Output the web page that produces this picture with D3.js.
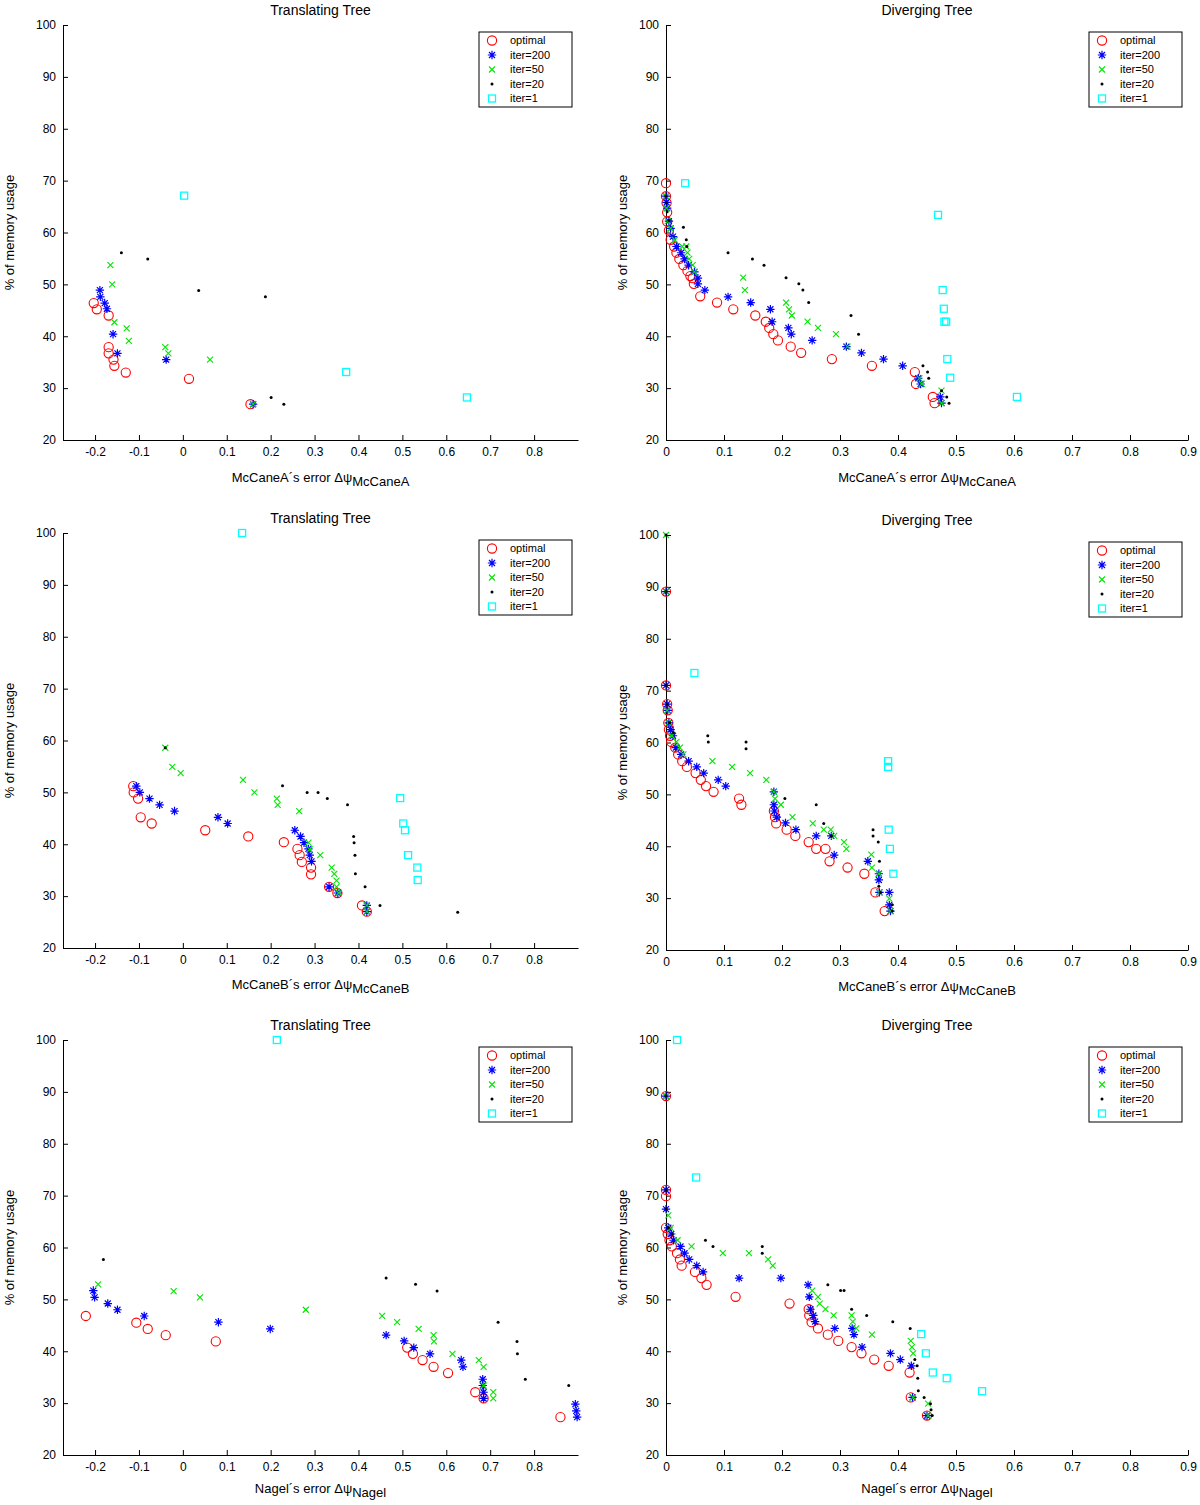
<!DOCTYPE html>
<html><head><meta charset="utf-8">
<script src="https://cdn.jsdelivr.net/npm/d3@7"></script>
<style>body{margin:0;background:#fff}svg{display:block}text{font-family:"Liberation Sans",Arial,Helvetica,sans-serif;fill:#000}</style>
</head><body><svg id="c" width="1200" height="1505"></svg>
<script>
const seriesNames = ["optimal","iter=200","iter=50","iter=20","iter=1"];
const yTicks = [20,30,40,50,60,70,80,90,100];
const xTicksLeft = [-0.2,-0.1,0,0.1,0.2,0.3,0.4,0.5,0.6,0.7,0.8];
const xTicksRight = [0,0.1,0.2,0.3,0.4,0.5,0.6,0.7,0.8,0.9];
const titles = ["Translating Tree","Diverging Tree","Translating Tree","Diverging Tree","Translating Tree","Diverging Tree"];
const xLabelMain = ["McCaneA\u00B4s error \u0394\u03C8","McCaneA\u00B4s error \u0394\u03C8","McCaneB\u00B4s error \u0394\u03C8","McCaneB\u00B4s error \u0394\u03C8","Nagel\u00B4s error \u0394\u03C8","Nagel\u00B4s error \u0394\u03C8"];
const xLabelSub = ["McCaneA","McCaneA","McCaneB","McCaneB","Nagel","Nagel"];
const yLabel = "% of memory usage";

// Panel 1: Translating Tree, McCaneA
const p1_opt = [[-0.203,46.4],[-0.196,45.2],[-0.169,44.0],[-0.169,37.9],[-0.169,36.7],[-0.158,35.5],[-0.156,34.3],[-0.130,33.0],[0.014,31.8],[0.154,26.9]];
const p1_i200 = [[-0.189,48.9],[-0.188,47.6],[-0.178,46.4],[-0.173,45.3],[-0.159,40.4],[-0.149,36.7],[-0.038,35.5],[0.160,26.9]];
const p1_i50 = [[-0.165,53.7],[-0.161,50.0],[-0.156,42.7],[-0.128,41.5],[-0.123,39.1],[-0.040,37.9],[-0.033,36.7],[0.062,35.5],[0.160,26.9]];
const p1_i20 = [[-0.140,56.1],[-0.080,54.9],[0.036,48.8],[0.188,47.6],[0.201,28.2],[0.230,26.9]];
const p1_i1 = [[0.003,67.1],[0.372,33.1],[0.647,28.2]];

// Panel 2: Diverging Tree, McCaneA
const p2_opt = [[0,69.5],[0,67.0],[0.001,65.7],[0.002,63.9],[0.002,62.1],[0.005,60.4],[0.008,58.6],[0.014,57.3],[0.018,56.1],[0.023,54.9],[0.030,53.7],[0.037,52.6],[0.042,51.6],[0.046,51.2],[0.048,50.1],[0.059,47.7],[0.088,46.5],[0.116,45.2],[0.154,44.0],[0.172,42.8],[0.178,41.6],[0.185,40.4],[0.193,39.2],[0.215,38.0],[0.233,36.8],[0.286,35.6],[0.355,34.3],[0.429,33.1],[0.431,30.8],[0.460,28.3],[0.463,27.1]];
const p2_i200 = [[0,67.0],[0.001,65.8],[0.002,64.7],[0.005,62.2],[0.008,60.8],[0.012,59.2],[0.018,57.3],[0.026,56.1],[0.032,54.9],[0.039,53.7],[0.049,52.4],[0.055,51.2],[0.055,50.1],[0.067,48.9],[0.107,47.6],[0.146,46.5],[0.180,45.2],[0.183,42.8],[0.211,41.6],[0.216,40.4],[0.252,39.2],[0.311,38.0],[0.337,36.8],[0.375,35.6],[0.408,34.3],[0.435,31.9],[0.439,30.8],[0.473,28.3],[0.475,27.1]];
const p2_i50 = [[0,67.0],[0.001,64.7],[0.003,62.2],[0.008,60.8],[0.015,58.6],[0.028,57.3],[0.035,57.3],[0.037,56.1],[0.040,54.9],[0.046,53.7],[0.049,52.4],[0.133,51.3],[0.136,48.9],[0.207,46.5],[0.212,45.2],[0.217,44.0],[0.244,42.8],[0.262,41.6],[0.293,40.4],[0.313,38.0],[0.437,31.9],[0.441,30.8],[0.475,29.5],[0.475,27.1]];
const p2_i20 = [[0,67.0],[0,65.7],[0.002,64.0],[0.005,62.3],[0.030,61.0],[0.035,58.6],[0.036,57.3],[0.107,56.1],[0.149,54.9],[0.169,53.7],[0.207,51.3],[0.229,50.1],[0.236,48.9],[0.246,46.5],[0.319,44.0],[0.332,40.4],[0.443,34.3],[0.451,33.1],[0.453,31.9],[0.475,29.5],[0.484,28.3],[0.488,27.1]];
const p2_i1 = [[0.033,69.5],[0.469,63.4],[0.477,48.9],[0.479,45.3],[0.480,42.8],[0.483,42.8],[0.485,35.6],[0.490,32.0],[0.605,28.3]];

// Panel 3: Translating Tree, McCaneB
const p3_opt = [[-0.113,51.2],[-0.112,50.0],[-0.102,48.8],[-0.096,45.2],[-0.071,44.0],[0.051,42.7],[0.149,41.5],[0.230,40.4],[0.261,39.1],[0.266,37.9],[0.271,36.6],[0.292,35.5],[0.292,34.2],[0.333,31.8],[0.352,30.6],[0.408,28.2],[0.419,27.0]];
const p3_i200 = [[-0.106,51.2],[-0.098,50.0],[-0.076,48.8],[-0.053,47.6],[-0.019,46.4],[0.080,45.2],[0.102,44.0],[0.255,42.7],[0.268,41.5],[0.276,40.3],[0.286,39.1],[0.289,37.9],[0.293,36.7],[0.333,31.8],[0.353,30.6],[0.419,28.2],[0.419,27.0]];
const p3_i50 = [[-0.040,58.6],[-0.024,54.9],[-0.005,53.7],[0.137,52.4],[0.163,50.0],[0.214,48.8],[0.216,47.6],[0.265,46.4],[0.286,40.3],[0.289,39.0],[0.313,37.9],[0.339,35.5],[0.345,34.3],[0.350,33.0],[0.350,31.8],[0.355,30.6],[0.419,28.2],[0.419,27.0]];
const p3_i20 = [[-0.040,58.6],[0.227,51.3],[0.283,50.0],[0.308,50.0],[0.329,48.8],[0.375,47.6],[0.389,41.5],[0.390,40.3],[0.392,37.9],[0.393,34.3],[0.415,31.8],[0.449,28.2],[0.626,26.9]];
const p3_i1 = [[0.135,100],[0.495,48.9],[0.502,44.0],[0.506,42.7],[0.513,37.9],[0.534,35.5],[0.535,33.1]];

// Panel 4: Diverging Tree, McCaneB
const p4_opt = [[0,89.1],[0,71.0],[0.002,67.4],[0.003,66.2],[0.004,63.8],[0.005,62.5],[0.007,61.3],[0.009,60.1],[0.016,59.0],[0.021,57.7],[0.028,56.4],[0.036,55.3],[0.051,54.1],[0.060,52.8],[0.069,51.6],[0.082,50.5],[0.126,49.2],[0.130,48.0],[0.186,46.8],[0.188,45.6],[0.190,44.4],[0.208,43.2],[0.223,42.0],[0.246,40.8],[0.259,39.5],[0.275,39.5],[0.282,37.1],[0.313,35.9],[0.342,34.7],[0.361,31.1],[0.377,27.5]];
const p4_i200 = [[0,89.1],[0,71.0],[0.002,67.4],[0.003,66.2],[0.005,63.8],[0.008,62.5],[0.012,61.3],[0.017,59.0],[0.026,57.7],[0.039,56.4],[0.053,55.3],[0.065,54.1],[0.090,52.8],[0.103,51.6],[0.186,50.5],[0.186,48.0],[0.187,46.8],[0.191,45.6],[0.206,44.5],[0.224,43.2],[0.259,42.0],[0.285,42.0],[0.290,38.3],[0.348,37.1],[0.367,34.7],[0.367,33.5],[0.368,31.1],[0.385,31.1],[0.385,28.7],[0.387,27.5]];
const p4_i50 = [[0,100],[0,89.1],[0.002,66.2],[0.004,63.8],[0.010,61.3],[0.018,60.1],[0.024,59.0],[0.030,57.7],[0.080,56.4],[0.114,55.3],[0.145,54.1],[0.173,52.8],[0.186,50.5],[0.188,49.2],[0.198,48.0],[0.218,45.6],[0.253,44.4],[0.272,43.2],[0.284,43.2],[0.290,42.0],[0.307,40.8],[0.311,39.5],[0.354,38.4],[0.355,35.9],[0.367,34.7],[0.368,31.1],[0.385,29.9],[0.387,27.5]];
const p4_i20 = [[0,100],[0,89.1],[0,71.0],[0.002,67.4],[0.006,63.8],[0.013,61.9],[0.072,61.3],[0.073,60.1],[0.138,60.1],[0.138,58.8],[0.205,49.2],[0.259,48.0],[0.272,44.4],[0.285,42.0],[0.357,43.2],[0.357,42.0],[0.366,40.8],[0.368,37.1],[0.367,32.3],[0.370,31.1],[0.390,28.7],[0.390,27.5]];
const p4_i1 = [[0.049,73.4],[0.383,56.4],[0.383,55.3],[0.384,43.2],[0.386,39.5],[0.392,34.7]];

// Panel 5: Translating Tree, Nagel
const p5_opt = [[-0.221,46.8],[-0.106,45.5],[-0.080,44.3],[-0.039,43.1],[0.075,41.9],[0.511,40.7],[0.524,39.5],[0.546,38.3],[0.571,37.0],[0.604,35.8],[0.666,32.1],[0.685,30.9],[0.860,27.3]];
const p5_i200 = [[-0.204,51.7],[-0.201,50.4],[-0.171,49.2],[-0.149,48.0],[-0.088,46.8],[0.081,45.6],[0.199,44.3],[0.463,43.1],[0.504,42.0],[0.526,40.7],[0.563,39.5],[0.634,38.3],[0.638,37.0],[0.683,34.6],[0.683,33.4],[0.685,32.1],[0.685,30.9],[0.894,29.8],[0.896,28.5],[0.898,27.3]];
const p5_i50 = [[-0.193,52.9],[-0.021,51.6],[0.039,50.4],[0.280,48.0],[0.454,46.8],[0.488,45.6],[0.537,44.3],[0.571,43.1],[0.572,41.9],[0.614,39.5],[0.674,38.3],[0.685,37.0],[0.685,33.4],[0.707,32.1],[0.707,30.9]];
const p5_i20 = [[-0.181,57.7],[0.463,54.1],[0.530,52.9],[0.579,51.6],[0.718,45.6],[0.761,41.9],[0.762,39.5],[0.780,34.6],[0.879,33.4]];
const p5_i1 = [[0.214,100]];

// Panel 6: Diverging Tree, Nagel
const p6_opt = [[0,89.2],[0,71.1],[0,69.9],[0,63.8],[0.003,62.6],[0.006,61.4],[0.010,60.2],[0.019,58.9],[0.024,57.7],[0.027,56.5],[0.050,55.3],[0.061,54.1],[0.070,52.8],[0.120,50.5],[0.213,49.2],[0.246,48.1],[0.247,46.9],[0.251,45.6],[0.262,44.4],[0.279,43.2],[0.297,42.0],[0.320,40.8],[0.337,39.6],[0.359,38.4],[0.384,37.2],[0.420,35.9],[0.422,31.1],[0.450,27.6]];
const p6_i200 = [[0,89.2],[0,71.1],[0,67.4],[0.004,63.8],[0.009,62.6],[0.013,61.4],[0.025,60.2],[0.032,58.9],[0.040,57.7],[0.053,56.5],[0.064,55.3],[0.126,54.1],[0.198,54.1],[0.245,52.8],[0.247,50.5],[0.249,48.1],[0.254,46.9],[0.257,45.7],[0.291,44.4],[0.321,44.4],[0.324,43.2],[0.338,40.8],[0.387,39.6],[0.404,38.4],[0.423,37.2],[0.425,31.1],[0.450,27.6]];
const p6_i50 = [[0,89.2],[0.004,66.2],[0.008,63.8],[0.020,61.4],[0.044,60.2],[0.098,58.9],[0.143,58.9],[0.176,57.7],[0.184,56.5],[0.252,51.7],[0.262,50.5],[0.265,49.2],[0.275,48.1],[0.289,46.9],[0.320,46.9],[0.322,45.7],[0.328,44.4],[0.355,43.2],[0.422,42.0],[0.424,40.8],[0.426,39.6],[0.426,31.1],[0.452,29.9],[0.452,27.6]];
const p6_i20 = [[0,89.2],[0,71.1],[0,67.4],[0.004,63.8],[0.011,62.6],[0.068,61.4],[0.081,60.2],[0.166,60.2],[0.166,58.9],[0.279,52.8],[0.301,51.7],[0.307,51.7],[0.320,48.1],[0.346,46.9],[0.391,45.7],[0.421,44.4],[0.429,38.4],[0.433,37.2],[0.434,34.8],[0.435,32.4],[0.445,31.1],[0.456,29.9],[0.457,28.7],[0.459,27.6]];
const p6_i1 = [[0.019,100],[0.052,73.5],[0.440,43.3],[0.448,39.6],[0.460,35.9],[0.484,34.8],[0.545,32.3]];

const panelData = [
  [p1_opt,p1_i200,p1_i50,p1_i20,p1_i1],
  [p2_opt,p2_i200,p2_i50,p2_i20,p2_i1],
  [p3_opt,p3_i200,p3_i50,p3_i20,p3_i1],
  [p4_opt,p4_i200,p4_i50,p4_i20,p4_i1],
  [p5_opt,p5_i200,p5_i50,p5_i20,p5_i1],
  [p6_opt,p6_i200,p6_i50,p6_i20,p6_i1]
];

// layout
const boxes = [
  {l:63,r:578,t:25,b:440,side:0,lab:42},
  {l:666,r:1188,t:25,b:440,side:1,lab:42},
  {l:63,r:578,t:533,b:948,side:0,lab:41},
  {l:666,r:1188,t:535,b:950,side:1,lab:41},
  {l:63,r:578,t:1040,b:1455,side:0,lab:38},
  {l:666,r:1188,t:1040,b:1455,side:1,lab:38}
];
const xDomLeft = [-0.273, 0.9];
const xDomRight = [0, 0.9];

const colors = ["#ff0000","#0000ff","#00e600","#000000","#00ffff"];
const svg = d3.select("#c");

function drawMarker(g, k, cx, cy) {
  const c = colors[k];
  if (k === 0) {
    g.append("circle").attr("cx",cx).attr("cy",cy).attr("r",4.6).attr("fill","none").attr("stroke",c).attr("stroke-width",1.1);
  } else if (k === 1) {
    const a = 4.2, d = 3.0;
    g.append("path").attr("d",`M${cx-a},${cy}H${cx+a}M${cx},${cy-a}V${cy+a}M${cx-d},${cy-d}L${cx+d},${cy+d}M${cx-d},${cy+d}L${cx+d},${cy-d}`)
      .attr("stroke",c).attr("stroke-width",1.2).attr("fill","none");
  } else if (k === 2) {
    const d = 3.0;
    g.append("path").attr("d",`M${cx-d},${cy-d}L${cx+d},${cy+d}M${cx-d},${cy+d}L${cx+d},${cy-d}`)
      .attr("stroke",c).attr("stroke-width",1.1).attr("fill","none");
  } else if (k === 3) {
    g.append("circle").attr("cx",cx).attr("cy",cy).attr("r",1.5).attr("fill",c);
  } else {
    g.append("rect").attr("x",cx-3.5).attr("y",cy-3.5).attr("width",7).attr("height",7)
      .attr("fill","none").attr("stroke",c).attr("stroke-width",1.3);
  }
}

const fmt = d => String(+d.toFixed(1));

boxes.forEach((bx, i) => {
  const x = d3.scaleLinear().domain(bx.side ? xDomRight : xDomLeft).range([bx.l, bx.r]);
  const y = d3.scaleLinear().domain([20,100]).range([bx.b, bx.t]);
  const g = svg.append("g");

  const xa = g.append("g").attr("transform",`translate(0,${bx.b})`)
    .call(d3.axisBottom(x).tickValues(bx.side ? xTicksRight : xTicksLeft).tickSize(-5).tickSizeOuter(0).tickPadding(7).tickFormat(fmt));
  const ya = g.append("g").attr("transform",`translate(${bx.l},0)`)
    .call(d3.axisLeft(y).tickValues(yTicks).tickSize(-5).tickSizeOuter(0).tickPadding(7).tickFormat(fmt));
  [xa, ya].forEach(a => {
    a.selectAll("text").attr("font-size",12).attr("font-family","Liberation Sans, Arial, sans-serif").attr("fill","#000");
    a.selectAll("line").attr("stroke","#000");
    a.select(".domain").attr("stroke","#000");
  });

  // data
  const dg = g.append("g");
  panelData[i].forEach((ser, k) => {
    ser.forEach(p => drawMarker(dg, k, x(p[0]), y(p[1])));
  });

  // title
  g.append("text").attr("x",(bx.l+bx.r)/2).attr("y",bx.t-10).attr("text-anchor","middle")
    .attr("font-size",14).text(titles[i]);

  // x label
  const xl = g.append("text").attr("x",(bx.l+bx.r)/2).attr("y",bx.b+bx.lab).attr("text-anchor","middle").attr("font-size",13);
  xl.append("tspan").text(xLabelMain[i]);
  xl.append("tspan").attr("dy",4).attr("font-size",13).text(xLabelSub[i]);

  // y label
  const ylx = bx.side ? bx.l - 44 : bx.l - 54;
  g.append("text").attr("transform",`translate(${ylx},${(bx.t+bx.b)/2}) rotate(-90)`)
    .attr("text-anchor","middle").attr("dy","0.35em").attr("font-size",13).text(yLabel);

  // legend
  const lw = 93, lh = 75;
  const lx = bx.r - 6 - lw, ly = bx.t + 7;
  const lg = g.append("g");
  lg.append("rect").attr("x",lx).attr("y",ly).attr("width",lw).attr("height",lh)
    .attr("fill","#fff").attr("stroke","#000").attr("stroke-width",1);
  seriesNames.forEach((nm, k) => {
    const yy = ly + 8.5 + k*14.5;
    drawMarker(lg, k, lx + 13, yy);
    lg.append("text").attr("x",lx+31).attr("y",yy).attr("dy","0.35em").attr("font-size",11).text(nm);
  });
});
</script></body></html>
